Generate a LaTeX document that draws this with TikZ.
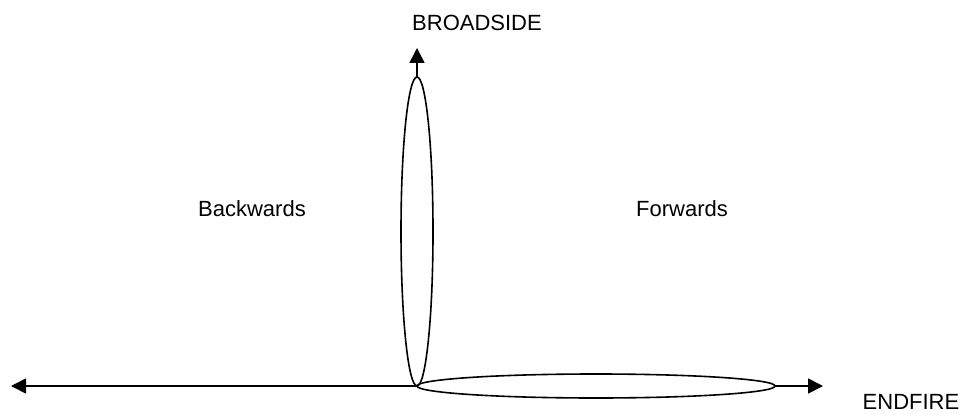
\documentclass[tikz,border=0pt]{standalone}
\usepackage{fontspec}
\setmainfont{Liberation Sans}
\usetikzlibrary{arrows.meta}

\begin{document}
\begin{tikzpicture}[x=1pt, y=-1pt, line width=1.6pt,
    >={Triangle[length=15pt, width=15pt]},
    label text/.style={inner sep=0pt, font=\fontsize{22}{26}\selectfont}]
    % 1. Khung hình
    \useasboundingbox (0,0) rectangle (965,414);

    % 2. Các điểm mốc
    \coordinate (origin) at (417,386);
    \coordinate (left end) at (11,386);
    \coordinate (right end) at (823,386);
    \coordinate (top end) at (417,48);
    \coordinate (lobe top) at (417,77);
    \coordinate (lobe tip) at (775,386);

    % 3. Hai búp sóng
    \draw (417,231.5) ellipse [x radius=16pt, y radius=154.5pt];
    \draw (596,386) ellipse [x radius=179pt, y radius=12pt];

    % 4. Trục
    \draw[->] (origin) -- (left end);
    \draw[->] (lobe tip) -- (right end);
    \draw[->] (lobe top) -- (top end);

    % 5. Nhãn
    \node[label text] (broadside) at (477,23) {BROADSIDE};
    \node[label text] (backwards) at (252,209) {Backwards};
    \node[label text] (forwards) at (682,209) {Forwards};
    \node[label text] (endfire) at (911,401.5) {ENDFIRE};
\end{tikzpicture}
\end{document}
